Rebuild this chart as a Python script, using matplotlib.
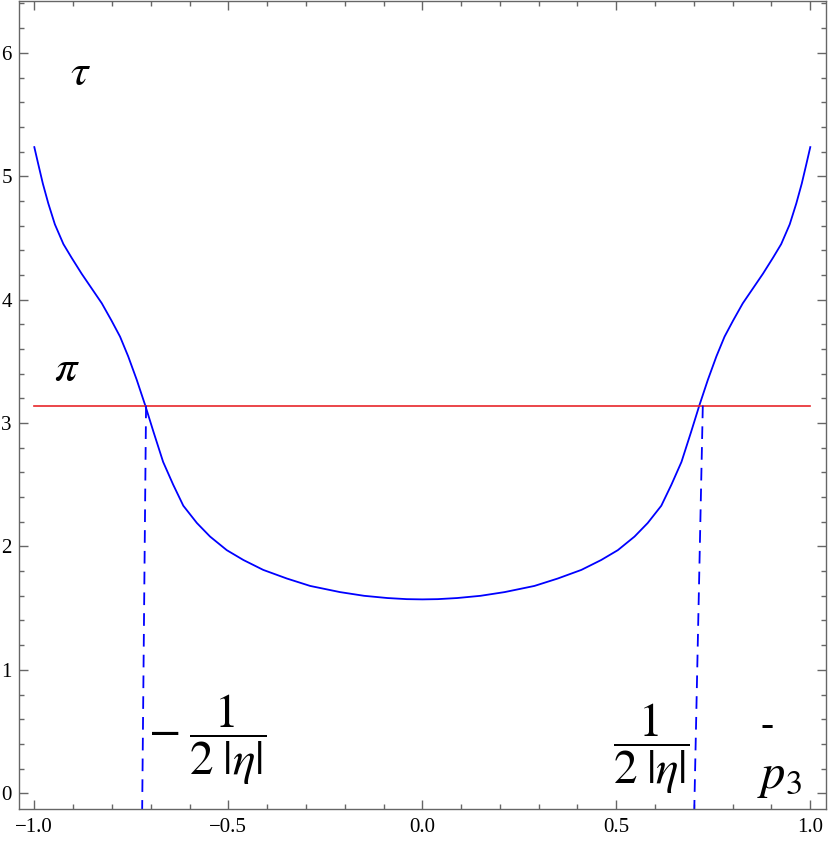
import matplotlib
matplotlib.use("Agg")
import matplotlib.pyplot as plt
from matplotlib.ticker import MultipleLocator

plt.rcParams['font.family'] = ['Liberation Serif', 'DejaVu Serif']
plt.rcParams['mathtext.fontset'] = 'stix'
plt.rcParams['axes.unicode_minus'] = True

# curve tau(p3)
p3 = [-1.0, -0.990, -0.978, -0.964, -0.947, -0.925, -0.904, -0.878, -0.852,
      -0.826, -0.801, -0.779, -0.758, -0.736, -0.714, -0.693, -0.668, -0.642,
      -0.616, -0.581, -0.547, -0.504, -0.461, -0.410, -0.349, -0.289, -0.212,
      -0.150, -0.090, -0.040, 0.0,
      0.040, 0.090, 0.150, 0.212, 0.289, 0.349, 0.410, 0.461, 0.504, 0.547,
      0.581, 0.616, 0.642, 0.668, 0.693, 0.714, 0.736, 0.758, 0.779, 0.801,
      0.826, 0.852, 0.878, 0.904, 0.925, 0.947, 0.964, 0.978, 0.990, 1.0]
tau = [5.236, 5.10, 4.94, 4.78, 4.61, 4.45, 4.34, 4.21, 4.09,
       3.97, 3.83, 3.70, 3.54, 3.35, 3.142, 2.93, 2.685, 2.50,
       2.33, 2.19, 2.08, 1.97, 1.89, 1.81, 1.74, 1.68, 1.63,
       1.60, 1.582, 1.573, 1.571,
       1.573, 1.582, 1.60, 1.63, 1.68, 1.74, 1.81, 1.89, 1.97, 2.08,
       2.19, 2.33, 2.50, 2.685, 2.93, 3.142, 3.35, 3.54, 3.70, 3.83,
       3.97, 4.09, 4.21, 4.34, 4.45, 4.61, 4.78, 4.94, 5.10, 5.236]

pi_level = 3.14159
pi_x = [-1.0, 1.0]

# dashed markers (top x, bottom x)
left_dash_x = [-0.712, -0.722]
right_dash_x = [0.723, 0.701]
dash_y = [3.14159, -0.13]

xticks = [-1.0, -0.5, 0.0, 0.5, 1.0]
yticks = [0, 1, 2, 3, 4, 5, 6]

fig = plt.figure(figsize=(8.3, 8.46), dpi=100)
W, H = 830, 846
ax = fig.add_axes([18.8 / W, (H - 809.3) / H, (825.8 - 18.8) / W, (809.3 - 1) / H])

ax.plot(p3, tau, color='#0000ff', lw=1.3, solid_joinstyle='round')
ax.plot(pi_x, [pi_level, pi_level], color='#e8262a', lw=1.2)
ax.plot(left_dash_x, dash_y, color='#0000ff', lw=1.3, dashes=(7, 4.5))
ax.plot(right_dash_x, dash_y, color='#0000ff', lw=1.3, dashes=(7, 4.5))

ax.set_xlim(-1.04, 1.04)
ax.set_ylim(-0.13, 6.42)
ax.set_xticks(xticks)
ax.set_xticklabels([f"{v:.1f}".replace('-', '\u2212') for v in xticks])
ax.set_yticks(yticks)
ax.set_yticklabels([str(v) for v in yticks])
ax.xaxis.set_minor_locator(MultipleLocator(0.1))
ax.yaxis.set_minor_locator(MultipleLocator(0.2))

for s in ax.spines.values():
    s.set_color('#666666')
    s.set_linewidth(1.0)
ax.tick_params(which='both', direction='in', top=True, right=True,
               color='#666666', width=1.0)
ax.tick_params(which='major', length=6.5, labelsize=15, pad=6)
ax.tick_params(which='minor', length=3.8)
ax.tick_params(axis='y', which='major', pad=5)

ax.text(-0.880, 5.83, r'$\tau$', fontsize=32, ha='center', va='center')
ax.text(-0.916, 3.43, r'$\pi$', fontsize=32, ha='center', va='center')
ax.text(-0.555, 0.435, r'$-\;\dfrac{1}{2\;|\eta|}$', fontsize=34, ha='center', va='center')
ax.text(0.589, 0.363, r'$\dfrac{1}{2\;|\eta|}$', fontsize=34, ha='center', va='center')
ax.text(0.888, 0.54, '-', fontsize=28, ha='center', va='center')
ax.text(0.921, 0.124, r'$p_3$', fontsize=35, ha='center', va='center')

fig.savefig('out.png', dpi=100)
